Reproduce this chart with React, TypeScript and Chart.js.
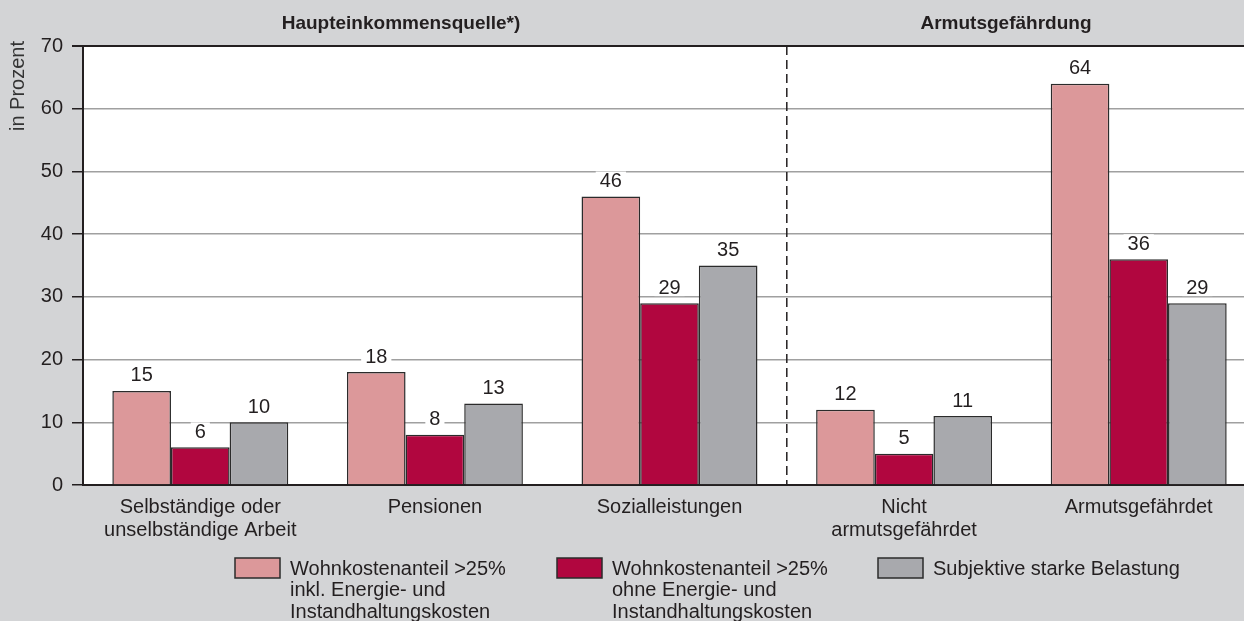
import React, { useEffect, useRef } from "react";
import { Chart, registerables } from "chart.js";

Chart.register(...registerables);

const categories: (string | string[])[] = [
  ["Selbständige oder", "unselbständige Arbeit"],
  "Pensionen",
  "Sozialleistungen",
  ["Nicht", "armutsgefährdet"],
  "Armutsgefährdet",
];
const inklValues = [15, 18, 46, 12, 64];
const ohneValues = [6, 8, 29, 5, 36];
const subjValues = [10, 13, 35, 11, 29];
const seriesNames = [
  "Wohnkostenanteil >25% inkl. Energie- und Instandhaltungskosten",
  "Wohnkostenanteil >25% ohne Energie- und Instandhaltungskosten",
  "Subjektive starke Belastung",
];
const legendLines = [
  ["Wohnkostenanteil >25%", "inkl. Energie- und", "Instandhaltungskosten"],
  ["Wohnkostenanteil >25%", "ohne Energie- und", "Instandhaltungskosten"],
  ["Subjektive starke Belastung"],
];
const groupTitles = ["Haupteinkommensquelle*)", "Armutsgefährdung"];
const yAxisTitle = "in Prozent";
const yMin = 0;
const yMax = 70;
const yStep = 10;

const COLORS = ["#dc989a", "#b1063f", "#a8a9ad"];
const BG = "#d3d4d6";
const DARK = "#231f20";
const FONT = "'Liberation Sans', Arial, sans-serif";
const FS = 20;

const decorPlugin = {
  id: "decor",
  beforeDraw(chart: any) {
    const { ctx, chartArea } = chart;
    ctx.save();
    ctx.fillStyle = BG;
    ctx.fillRect(0, 0, chart.width, chart.height);
    ctx.fillStyle = "#ffffff";
    ctx.fillRect(chartArea.left, chartArea.top, chartArea.right - chartArea.left, chartArea.bottom - chartArea.top);
    ctx.restore();
  },
  afterDraw(chart: any) {
    const { ctx, chartArea } = chart;
    const x = chart.scales.x;
    ctx.save();
    ctx.strokeStyle = DARK;
    ctx.lineWidth = 2;
    ctx.beginPath();
    ctx.moveTo(chartArea.left - 11, chartArea.top);
    ctx.lineTo(chartArea.right, chartArea.top);
    ctx.stroke();
    const sepX = (x.getPixelForValue(2) + x.getPixelForValue(3)) / 2;
    ctx.setLineDash([9, 5]);
    ctx.lineWidth = 1.5;
    ctx.beginPath();
    ctx.moveTo(sepX, chartArea.top);
    ctx.lineTo(sepX, chartArea.bottom);
    ctx.stroke();
    ctx.setLineDash([]);
    ctx.fillStyle = DARK;
    ctx.font = `bold 19px ${FONT}`;
    ctx.textAlign = "center";
    ctx.textBaseline = "middle";
    ctx.fillText(groupTitles[0], 401, 24);
    ctx.fillText(groupTitles[1], 1006, 24);
    ctx.font = `${FS}px ${FONT}`;
    ctx.fillStyle = "#333333";
    ctx.translate(18, 86);
    ctx.rotate(-Math.PI / 2);
    ctx.fillText(yAxisTitle, 0, 0);
    ctx.restore();

    ctx.save();
    const boxX = [235, 557, 878];
    ctx.font = `${FS}px ${FONT}`;
    ctx.textAlign = "left";
    ctx.textBaseline = "middle";
    chart.data.datasets.forEach((ds: any, i: number) => {
      ctx.fillStyle = ds.backgroundColor;
      ctx.fillRect(boxX[i], 558, 45, 20);
      ctx.strokeStyle = "#2b2b2b";
      ctx.lineWidth = 1.5;
      ctx.strokeRect(boxX[i], 558, 45, 20);
      ctx.fillStyle = DARK;
      legendLines[i].forEach((line, j) => {
        ctx.fillText(line, boxX[i] + 55, 569 + j * 21.5);
      });
    });
    ctx.restore();
  },
  afterDatasetsDraw(chart: any) {
    const { ctx } = chart;
    ctx.save();
    ctx.font = `${FS}px ${FONT}`;
    ctx.textAlign = "center";
    ctx.textBaseline = "middle";
    chart.data.datasets.forEach((ds: any, i: number) => {
      const meta = chart.getDatasetMeta(i);
      meta.data.forEach((bar: any, j: number) => {
        const txt = String(ds.data[j]);
        const w = ctx.measureText(txt).width;
        const cy = bar.y - 16;
        ctx.fillStyle = "#ffffff";
        ctx.fillRect(bar.x - w / 2 - 4, cy - 9, w + 8, 18);
        ctx.fillStyle = DARK;
        ctx.fillText(txt, bar.x, cy + 1);
      });
    });
    ctx.restore();
  },
};

export default function App() {
  const ref = useRef<HTMLCanvasElement>(null);
  useEffect(() => {
    if (!ref.current) return;
    const chart = new Chart(ref.current, {
      type: "bar",
      data: {
        labels: categories as any,
        datasets: [inklValues, ohneValues, subjValues].map((d, i) => ({
          label: seriesNames[i],
          data: d,
          backgroundColor: COLORS[i],
          borderColor: "#2b2b2b",
          borderWidth: 1.5,
          categoryPercentage: 0.75,
          barPercentage: 1,
        })),
      },
      options: {
        responsive: false,
        animation: false,
        devicePixelRatio: 1,
        layout: { padding: { top: 46, left: 0, right: 0, bottom: 0 } },
        plugins: {
          legend: { display: false },
          tooltip: { enabled: false },
        },
        scales: {
          x: {
            grid: { display: false, drawTicks: false },
            border: { display: true, color: DARK, width: 2 },
            ticks: {
              color: DARK,
              font: { family: FONT, size: FS, lineHeight: 1.15 },
              padding: 11,
              maxRotation: 0,
              autoSkip: false,
            },
            afterFit: (s: any) => {
              s.height = 136;
            },
          },
          y: {
            min: yMin,
            max: yMax,
            grid: {
              color: "#a0a0a0",
              lineWidth: 1.5,
              tickColor: DARK,
              tickLength: 11,
              drawTicks: true,
            },
            border: { display: true, color: DARK, width: 2 },
            ticks: {
              stepSize: yStep,
              color: DARK,
              font: { family: FONT, size: FS },
              padding: 9,
            },
            afterFit: (s: any) => {
              s.width = 83;
            },
          },
        },
      },
      plugins: [decorPlugin],
    });
    return () => chart.destroy();
  }, []);
  return (
    <div
      style={{
        position: "absolute",
        left: 0,
        top: 0,
        width: 1244,
        height: 621,
        overflow: "hidden",
        background: BG,
      }}
    >
      <canvas ref={ref} width={1256} height={621} style={{ width: 1256, height: 621, display: "block" }} />
    </div>
  );
}
